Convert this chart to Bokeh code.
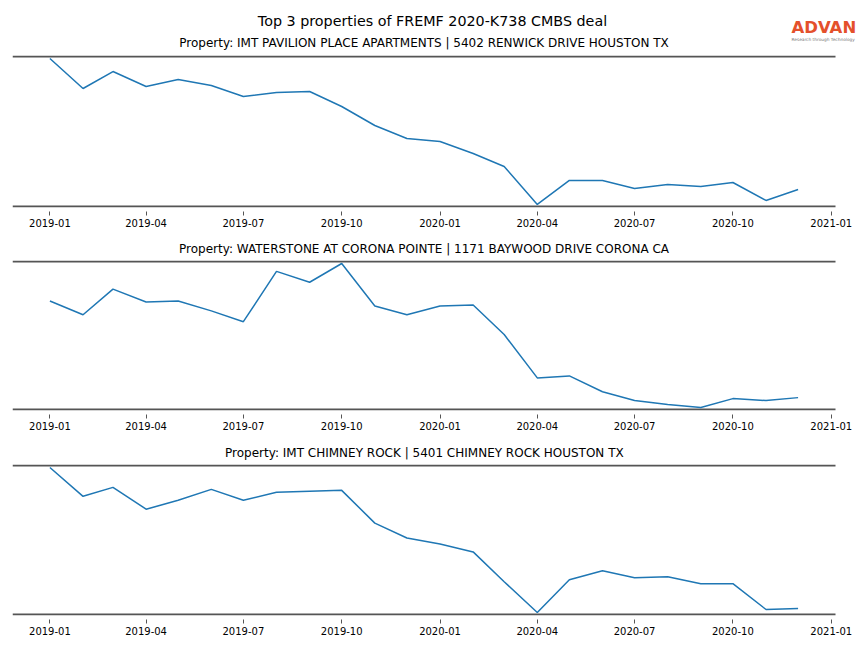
import pandas as pd
from bokeh.plotting import figure
from bokeh.models import Range1d, FixedTicker, DatetimeTickFormatter
from bokeh.core.properties import value
from bokeh.layouts import column
from bokeh.embed import file_html
from bokeh.resources import INLINE

main_title = "Top 3 properties of FREMF 2020-K738 CMBS deal"
logo_name = "ADVAN"
logo_tagline = "Research through Technology"

months = ["2019-01", "2019-02", "2019-03", "2019-04", "2019-05", "2019-06",
          "2019-07", "2019-08", "2019-09", "2019-10", "2019-11", "2019-12",
          "2020-01", "2020-02", "2020-03", "2020-04", "2020-05", "2020-06",
          "2020-07", "2020-08", "2020-09", "2020-10", "2020-11", "2020-12"]

tick_labels = ["2019-01", "2019-04", "2019-07", "2019-10", "2020-01",
               "2020-04", "2020-07", "2020-10", "2021-01"]

titles = [
    "Property: IMT PAVILION PLACE APARTMENTS | 5402 RENWICK DRIVE HOUSTON TX",
    "Property: WATERSTONE AT CORONA POINTE | 1171 BAYWOOD DRIVE CORONA CA",
    "Property: IMT CHIMNEY ROCK | 5401 CHIMNEY ROCK HOUSTON TX",
]

pavilion = [148, 118, 135, 120, 127, 121, 110, 114, 115, 100, 81, 68,
            65, 53, 40, 2, 26, 26, 18, 22, 20, 24, 6, 17]
waterstone = [109, 95, 121, 108, 109, 99, 88, 139, 128, 147, 104, 95,
              104, 105, 75, 31, 33, 17, 8, 4, 1, 10, 8, 11]
chimney = [147, 118, 127, 105, 114, 125, 114, 122, 123, 124, 91, 76,
           70, 62, 32, 1, 34, 43, 36, 37, 30, 30, 4, 5]

dates = pd.to_datetime(months)
span_days = (dates[-1] - dates[0]).days
x_start = dates[0] - pd.Timedelta(days=0.05 * span_days)
x_end = dates[-1] + pd.Timedelta(days=0.05 * span_days)
ticks_ms = [float(t.value // 10**6) for t in pd.to_datetime(tick_labels)]

FONT = "DejaVu Sans"
SPINE = "#555555"
fmt = "%Y-%m"

# axes area (between the spines) is 823 px wide starting at x=12; the frame
# is made wider so the logo in the header is not clipped
W_LEFT, W_AXES, W_FRAME, W_RIGHT = 12, 823, 848, 3
x_lim_end = x_start + (x_end - x_start) * (W_FRAME / W_AXES)
HEADER_H = 54

# ---- header: main title, first subtitle and logo ----
hdr = figure(frame_width=W_FRAME, frame_height=HEADER_H,
             min_border_left=W_LEFT, min_border_right=W_RIGHT,
             min_border_top=0, min_border_bottom=0,
             x_range=Range1d(W_LEFT, W_LEFT + W_FRAME),
             y_range=Range1d(HEADER_H, 0),
             x_axis_location=None, y_axis_location=None,
             toolbar_location=None, output_backend="svg")
hdr.outline_line_color = None
hdr.grid.visible = False
hdr.text(x=[432], y=[20], text=[main_title], text_font=value(FONT),
         text_font_size="14.3px", text_align="center", text_baseline="middle",
         text_color="black")
hdr.text(x=[W_LEFT + W_AXES / 2], y=[42], text=[titles[0]],
         text_font=value(FONT), text_font_size="12px", text_align="center",
         text_baseline="middle", text_color="black")
hdr.text(x=[791], y=[26.5], text=[logo_name], text_font=value(FONT),
         text_font_size="16.5px", text_font_style="bold", text_align="left",
         text_baseline="middle", text_color="#E4502B")
hdr.text(x=[791], y=[38.5], text=[logo_tagline], text_font=value(FONT),
         text_font_size="4.3px", text_align="left", text_baseline="middle",
         text_color="#777777")


def make_panel(vals, title, title_offset, top_border, bottom_border, inner_h):
    lo, hi = min(vals), max(vals)
    pad = 0.014 * (hi - lo)
    y0, y1 = lo - pad, hi + pad
    per_px = (y1 - y0) / inner_h
    p = figure(x_axis_type="datetime", frame_width=W_FRAME,
               frame_height=inner_h + 2,
               min_border_left=W_LEFT, min_border_right=W_RIGHT,
               min_border_top=top_border - 1, min_border_bottom=bottom_border - 1,
               toolbar_location=None, output_backend="svg",
               x_range=Range1d(x_start, x_lim_end),
               y_range=Range1d(y0 - per_px, y1 + per_px),
               y_axis_location=None)
    if title:
        p.title.text = title
        p.title.align = "left"
        p.title.offset = title_offset
        p.title.text_font = FONT
        p.title.text_font_size = "12px"
        p.title.text_font_style = "normal"
        p.title.text_color = "black"
        p.title.standoff = 9
    p.outline_line_color = None
    p.grid.visible = False
    p.background_fill_color = "white"
    p.border_fill_color = "white"

    ax = p.xaxis[0]
    ax.ticker = FixedTicker(ticks=ticks_ms)
    ax.formatter = DatetimeTickFormatter(
        milliseconds=fmt, seconds=fmt, minsec=fmt, minutes=fmt, hourmin=fmt,
        hours=fmt, days=fmt, months=fmt, years=fmt)
    ax.axis_line_color = None
    ax.major_tick_in = -4
    ax.major_tick_out = 8
    ax.major_tick_line_color = SPINE
    ax.major_tick_line_width = 1
    ax.minor_tick_line_color = None
    ax.major_label_text_font = FONT
    ax.major_label_text_font_size = "10px"
    ax.major_label_text_color = "black"
    ax.major_label_standoff = 3

    # top and bottom spines, spanning the axes area only
    p.segment(x0=[x_start, x_start], x1=[x_end, x_end], y0=[y1, y0], y1=[y1, y0],
              line_color=SPINE, line_width=2)
    p.line(dates, vals, line_color="#1f77b4", line_width=1.5)
    return p


p1 = make_panel(pavilion, None, 0, 2, 29, 150)
p2 = make_panel(waterstone, titles[1], 166.5, 26, 30, 148)
p3 = make_panel(chimney, titles[2], 212.5, 26, 26, 149)

layout = column(hdr, p1, p2, p3, spacing=0)
open("out.html", "w").write(file_html(layout, INLINE))
